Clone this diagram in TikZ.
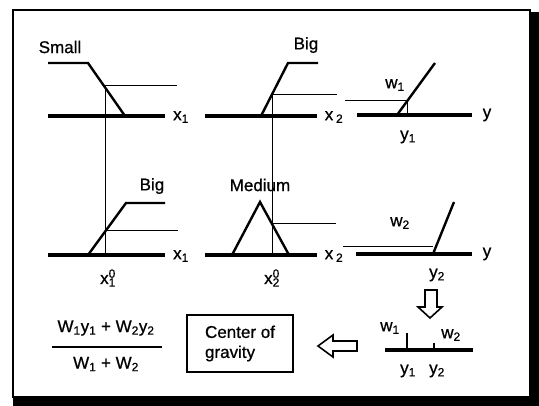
\documentclass[tikz,border=0pt]{standalone}
\usepackage{fontspec}
\setmainfont{Liberation Sans}[FakeBold=0.8]
\usepackage{tikz}
\usetikzlibrary{positioning,calc}

\newcommand{\xzero}[1]{x\rlap{\textsuperscript{0}}\textsubscript{#1}}

\begin{document}
\begin{tikzpicture}[x=1pt, y=-1pt,
    every node/.style={inner sep=0pt, font=\fontsize{17}{20}\selectfont},
    axis/.style={line width=3.2pt},
    mf/.style={line width=2.4pt},
    cut/.style={line width=0.9pt},
    blockarrow/.style={draw, line width=1.6pt, fill=white}]
    \useasboundingbox (0,0) rectangle (539,406);

    % frame with shadow
    \fill[black] (530,12) rectangle (539,406);
    \fill[black] (13,397) rectangle (539,406);
    \draw[line width=2pt] (13,10) rectangle (530,397);

    % Small, input x1
    \draw[mf] (48,63) -- (88,63) -- (125,116);
    \draw[axis] (48,116) -- (165,116);
    \draw[cut] (105,85) -- (177,85);
    \node (small) at (60,47) {Small};
    \node (xa) at (181,117) {x\textsubscript{1}};

    % Big, input x2
    \draw[axis] (205,116) -- (317,116);
    \draw[mf] (261,116) -- (288,63) -- (318,63);
    \draw[cut] (272,94) -- (337,94);
    \node (bigb) at (306,45) {Big};
    \node (xb) at (334,117) {x\,\textsubscript{2}};

    % output of rule 1
    \draw[cut] (345,100) -- (407,100) -- (407,115);
    \draw[axis] (357,115) -- (472,115);
    \draw[mf] (397,115) -- (435,63);
    \node (wa) at (395,85) {w\textsubscript{1}};
    \node (ya) at (408,137) {y\textsubscript{1}};
    \node (yout) at (487,115) {y};

    % inputs x1^0 and x2^0
    \draw[cut] (105,85) -- (105,255);
    \draw[cut] (272,94) -- (272,255);

    % Big, input x1
    \draw[axis] (48,255) -- (165,255);
    \draw[mf] (88,255) -- (126,203) -- (165,203);
    \draw[cut] (105,230) -- (178,230);
    \node (bigc) at (152,186) {Big};
    \node (xc) at (181,256) {x\textsubscript{1}};
    \node (xzeroa) at (108,278) {\xzero{1}};

    % Medium, input x2
    \draw[axis] (205,255) -- (317,255);
    \draw[mf] (232,255) -- (260,202) -- (289,255);
    \draw[cut] (272,223) -- (336,223);
    \node (medium) at (260,185) {Medium};
    \node (xd) at (334,256) {x\,\textsubscript{2}};
    \node (xzerob) at (272,278) {\xzero{2}};

    % output of rule 2
    \draw[cut] (343,246) -- (433,246);
    \draw[axis] (356,254) -- (472,254);
    \draw[mf] (433,254) -- (454,202);
    \node (wb) at (400,223) {w\textsubscript{2}};
    \node (yb) at (437,275) {y\textsubscript{2}};
    \node (youtb) at (487,254) {y};

    % block arrows
    \draw[blockarrow] (425,290) -- (437,290) -- (437,307) -- (442,307)
      -- (430,318) -- (418,307) -- (425,307) -- cycle;
    \draw[blockarrow] (357,341) -- (333,341) -- (333,335) -- (318,346)
      -- (333,357) -- (333,351) -- (357,351) -- cycle;

    % weights on y
    \draw[axis] (385,350) -- (473,350);
    \draw[line width=2pt] (407,333) -- (407,350);
    \draw[line width=2pt] (434,343) -- (434,350);
    \node (wc) at (390,328) {w\textsubscript{1}};
    \node (wd) at (451,335) {w\textsubscript{2}};
    \node (yc) at (408,371) {y\textsubscript{1}};
    \node (yd) at (437,371) {y\textsubscript{2}};

    % center of gravity
    \node[draw, line width=1.8pt, minimum width=106pt, minimum height=57pt,
      align=left, inner sep=8pt] (cog) at (240,343.5) {Center of\\gravity};

    % formula
    \node (num) at (106,328) {W\textsubscript{1}y\textsubscript{1} + W\textsubscript{2}y\textsubscript{2}};
    \node (den) at (106,364) {W\textsubscript{1} + W\textsubscript{2}};
    \coordinate (barl) at (52,347);
    \coordinate (barr) at (162,347);
    \draw[line width=2.4pt] (barl) -- (barr);
\end{tikzpicture}
\end{document}
